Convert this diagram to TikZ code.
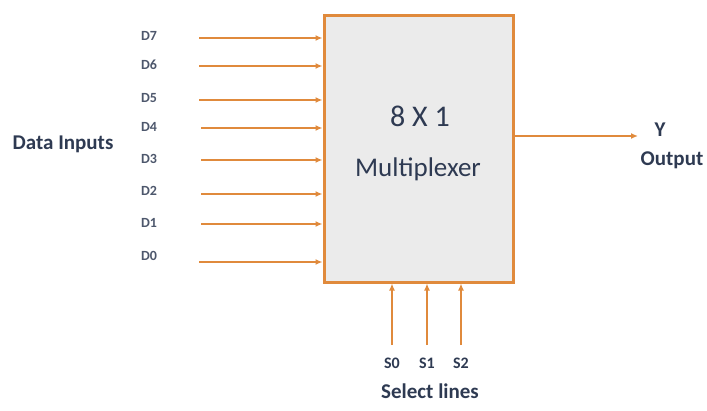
\documentclass[tikz,border=0pt]{standalone}
\usepackage{fontspec}
\setmainfont{Carlito}
\usetikzlibrary{arrows.meta}
\definecolor{muxorange}{HTML}{E08A3C}
\definecolor{muxfill}{HTML}{EBEBEB}
\definecolor{muxtext}{HTML}{2E3A52}
\begin{document}
\begin{tikzpicture}[x=1pt,y=-1pt,every node/.style={text=muxtext,inner sep=0pt},
    wire/.style={draw=muxorange,line width=2pt,-{Latex[length=7pt,width=6pt]}},
    pin/.style={font=\bfseries\fontsize{14}{14}\selectfont,text=muxtext!85},
    side/.style={font=\bfseries\fontsize{21}{21}\selectfont}]
        \useasboundingbox (0,0) rectangle (707,410);
        \node[draw=muxorange,fill=muxfill,line width=3pt,minimum width=189pt,minimum height=267pt] (mux) at (418.5,148.5) {};
        \node[font=\fontsize{30}{30}\selectfont] (title) at (420,116) {8 X 1};
        \node[font=\fontsize{27}{27}\selectfont] (name) at (418,169) {Multiplexer};
        \node[side] (data) at (63,144) {Data Inputs};
        \node[pin] (d7) at (149,36) {D7};
        \node[pin] (d6) at (149,65) {D6};
        \node[pin] (d5) at (149,98) {D5};
        \node[pin] (d4) at (149,127) {D4};
        \node[pin] (d3) at (149,159) {D3};
        \node[pin] (d2) at (149,191) {D2};
        \node[pin] (d1) at (149,223) {D1};
        \node[pin] (d0) at (149,256) {D0};
        \coordinate (in7) at (199,38);
        \coordinate (in6) at (199,66);
        \coordinate (in5) at (199,100);
        \coordinate (in4) at (201,128);
        \coordinate (in3) at (201,160);
        \coordinate (in2) at (201,194);
        \coordinate (in1) at (201,224);
        \coordinate (in0) at (199,262);
        \draw[wire] (in7) -- (in7 -| mux.west);
        \draw[wire] (in6) -- (in6 -| mux.west);
        \draw[wire] (in5) -- (in5 -| mux.west);
        \draw[wire] (in4) -- (in4 -| mux.west);
        \draw[wire] (in3) -- (in3 -| mux.west);
        \draw[wire] (in2) -- (in2 -| mux.west);
        \draw[wire] (in1) -- (in1 -| mux.west);
        \draw[wire] (in0) -- (in0 -| mux.west);
        \coordinate (yend) at (638,136);
        \draw[wire] (yend -| mux.east) -- (yend);
        \node[side] (y) at (660,130) {Y};
        \node[side] (out) at (672,160) {Output};
        \coordinate (sel0) at (392,345);
        \coordinate (sel1) at (427,345);
        \coordinate (sel2) at (461,345);
        \draw[wire] (sel0) -- (sel0 |- mux.south);
        \draw[wire] (sel1) -- (sel1 |- mux.south);
        \draw[wire] (sel2) -- (sel2 |- mux.south);
        \node[side,font=\bfseries\fontsize{16}{16}\selectfont] (s0) at (392,363) {S0};
        \node[side,font=\bfseries\fontsize{16}{16}\selectfont] (s1) at (427,363) {S1};
        \node[side,font=\bfseries\fontsize{16}{16}\selectfont] (s2) at (461,363) {S2};
        \node[side] (sel) at (430,391) {Select lines};
    \end{tikzpicture}
\end{document}
